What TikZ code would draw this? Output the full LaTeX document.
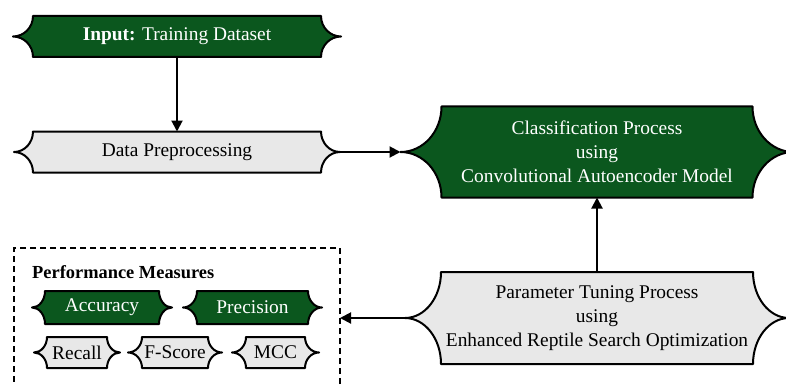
\documentclass[tikz,border=0pt]{standalone}
\usepackage{fontspec}
\setmainfont{Liberation Serif}
\usetikzlibrary{calc,backgrounds,arrows.meta}
\definecolor{boxgreen}{RGB}{11,87,30}
\definecolor{boxgray}{RGB}{232,232,232}

% Outline of a box with concave, pointed ends; defines tip coordinates <name>-l and <name>-r
\newcommand\scrollbox[3]{%
  \coordinate (#1-l) at ($(#1.west)+(-#2,0)$);
  \coordinate (#1-r) at ($(#1.east)+(#2,0)$);
  \filldraw[outline,fill=#3] (#1.north west) -- (#1.north east)
    .. controls ($(#1.north east)!0.5523!(#1.east)$) and ($(#1-r)!0.5523!(#1.east)$) .. (#1-r)
    .. controls ($(#1-r)!0.5523!(#1.east)$) and ($(#1.south east)!0.5523!(#1.east)$) .. (#1.south east)
    -- (#1.south west)
    .. controls ($(#1.south west)!0.5523!(#1.west)$) and ($(#1-l)!0.5523!(#1.west)$) .. (#1-l)
    .. controls ($(#1-l)!0.5523!(#1.west)$) and ($(#1.north west)!0.5523!(#1.west)$) .. (#1.north west) -- cycle;
}

\tikzset{
  box/.style={inner sep=0, outer sep=0, align=center, font=\fontsize{19.4}{24}\selectfont},
  greenbox/.style={box, text=white},
  graybox/.style={box, text=black},
  outline/.style={draw=black, line width=2pt, line join=round},
  link/.style={line width=2pt, -{Triangle[length=11pt,width=11pt]}},
}

\begin{document}
\begin{tikzpicture}[x=1pt, y=-1pt]
\useasboundingbox (0,0) rectangle (786,385);

% main flow
\node[greenbox, minimum width=288, minimum height=41] (in) at (177,36.5) {\textbf{Input:} Training Dataset};
\node[graybox, minimum width=288, minimum height=41] (data) at (177,152) {Data Preprocessing};
\node[greenbox, minimum width=311, minimum height=91] (cls) at (597,152)
  {Classification Process\\using\\Convolutional Autoencoder Model};
\node[graybox, minimum width=312, minimum height=92] (par) at (597,318)
  {Parameter Tuning Process\\using\\Enhanced Reptile Search Optimization};

% performance measures panel
\node[draw, dash pattern=on 6pt off 4pt, line width=1.5pt, minimum width=326, minimum height=160,
      inner sep=0, outer sep=0] (perf) at (177,328) {};
\node[anchor=base west, inner sep=0, font=\bfseries\fontsize{18.4}{22}\selectfont] (pmlabel) at (32,278)
  {Performance Measures};
\node[greenbox, minimum width=114, minimum height=33] (acc) at (102,307.5) {Accuracy};
\node[greenbox, minimum width=111, minimum height=33] (prec) at (252.5,307.5) {Precision};
\node[graybox, minimum width=60, minimum height=31] (rec) at (77,352.5) {Recall};
\node[graybox, minimum width=66, minimum height=31] (fsc) at (175,352.5) {F-Score};
\node[graybox, minimum width=59, minimum height=31] (mcc) at (275.5,352.5) {MCC};

\begin{scope}[on background layer]
  \fill[white] (0,0) rectangle (786,385);
  \scrollbox{in}{20}{boxgreen}
  \scrollbox{data}{19}{boxgray}
  \scrollbox{cls}{41}{boxgreen}
  \scrollbox{par}{36}{boxgray}
  \scrollbox{acc}{13}{boxgreen}
  \scrollbox{prec}{14}{boxgreen}
  \scrollbox{rec}{13}{boxgray}
  \scrollbox{fsc}{14}{boxgray}
  \scrollbox{mcc}{14}{boxgray}
\end{scope}

% connectors
\draw[link] (in.south) -- (data.north);
\draw[link] (data-r) -- (cls-l);
\draw[link] (par.north) -- (cls.south);
\draw[link] (par-l) -- (par-l -| perf.east);
\end{tikzpicture}
\end{document}
